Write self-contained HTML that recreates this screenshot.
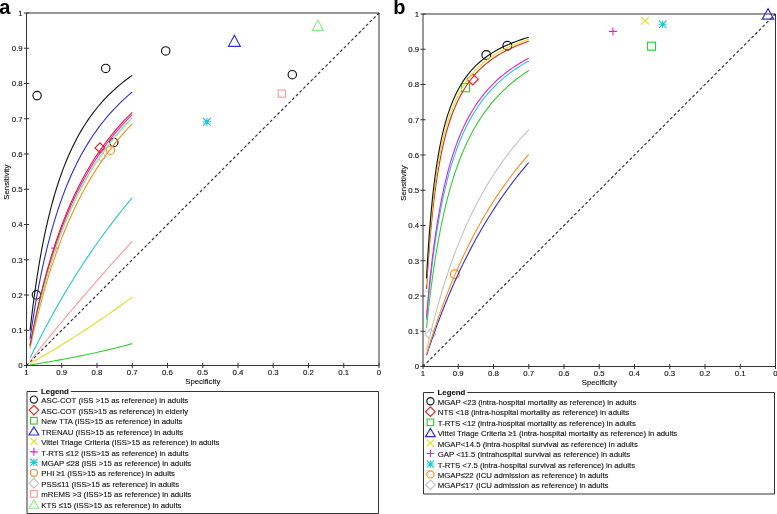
<!DOCTYPE html>
<html><head><meta charset="utf-8"><style>
html,body{margin:0;padding:0;background:#fff;overflow:hidden;}
svg{display:block;will-change:transform;}
text{font-family:"Liberation Sans", sans-serif;font-size:7.8px;fill:#111;stroke:#111;stroke-width:0.12px;}
.big{font-size:20px;font-weight:bold;fill:#000;stroke:none;}
</style></head><body>
<svg width="777" height="514" viewBox="0 0 777 514">
<rect width="777" height="514" fill="#fff"/>
<text class="big" x="-0.8" y="13.9">a</text>
<text class="big" x="393.3" y="14.0">b</text>
<g>
<line x1="26.5" y1="13.0" x2="26.5" y2="365.5" stroke="#333" stroke-width="1"/>
<line x1="26.5" y1="365.5" x2="379.0" y2="365.5" stroke="#333" stroke-width="1"/>
<line x1="26.5" y1="13.0" x2="379.0" y2="13.0" stroke="#333" stroke-width="1"/>
<line x1="379.0" y1="13.0" x2="379.0" y2="365.5" stroke="#333" stroke-width="1"/>
<line x1="26.5" y1="365.5" x2="379.0" y2="13.0" stroke="#262626" stroke-width="1.1" stroke-dasharray="2.9 2.32"/>
<line x1="23.9" y1="365.5" x2="29.1" y2="365.5" stroke="#333" stroke-width="1"/>
<text x="22.7" y="368.30" text-anchor="end">0</text>
<line x1="379.0" y1="362.9" x2="379.0" y2="368.1" stroke="#333" stroke-width="1"/>
<text x="379.00" y="375.2" text-anchor="middle">0</text>
<line x1="23.9" y1="330.25" x2="29.1" y2="330.25" stroke="#333" stroke-width="1"/>
<text x="22.7" y="333.05" text-anchor="end">0.1</text>
<line x1="343.75" y1="362.9" x2="343.75" y2="368.1" stroke="#333" stroke-width="1"/>
<text x="343.75" y="375.2" text-anchor="middle">0.1</text>
<line x1="23.9" y1="295.0" x2="29.1" y2="295.0" stroke="#333" stroke-width="1"/>
<text x="22.7" y="297.80" text-anchor="end">0.2</text>
<line x1="308.5" y1="362.9" x2="308.5" y2="368.1" stroke="#333" stroke-width="1"/>
<text x="308.50" y="375.2" text-anchor="middle">0.2</text>
<line x1="23.9" y1="259.75" x2="29.1" y2="259.75" stroke="#333" stroke-width="1"/>
<text x="22.7" y="262.55" text-anchor="end">0.3</text>
<line x1="273.25" y1="362.9" x2="273.25" y2="368.1" stroke="#333" stroke-width="1"/>
<text x="273.25" y="375.2" text-anchor="middle">0.3</text>
<line x1="23.9" y1="224.5" x2="29.1" y2="224.5" stroke="#333" stroke-width="1"/>
<text x="22.7" y="227.30" text-anchor="end">0.4</text>
<line x1="238.0" y1="362.9" x2="238.0" y2="368.1" stroke="#333" stroke-width="1"/>
<text x="238.00" y="375.2" text-anchor="middle">0.4</text>
<line x1="23.9" y1="189.25" x2="29.1" y2="189.25" stroke="#333" stroke-width="1"/>
<text x="22.7" y="192.05" text-anchor="end">0.5</text>
<line x1="202.75" y1="362.9" x2="202.75" y2="368.1" stroke="#333" stroke-width="1"/>
<text x="202.75" y="375.2" text-anchor="middle">0.5</text>
<line x1="23.9" y1="154.0" x2="29.1" y2="154.0" stroke="#333" stroke-width="1"/>
<text x="22.7" y="156.80" text-anchor="end">0.6</text>
<line x1="167.5" y1="362.9" x2="167.5" y2="368.1" stroke="#333" stroke-width="1"/>
<text x="167.50" y="375.2" text-anchor="middle">0.6</text>
<line x1="23.9" y1="118.75000000000003" x2="29.1" y2="118.75000000000003" stroke="#333" stroke-width="1"/>
<text x="22.7" y="121.55" text-anchor="end">0.7</text>
<line x1="132.25" y1="362.9" x2="132.25" y2="368.1" stroke="#333" stroke-width="1"/>
<text x="132.25" y="375.2" text-anchor="middle">0.7</text>
<line x1="23.9" y1="83.5" x2="29.1" y2="83.5" stroke="#333" stroke-width="1"/>
<text x="22.7" y="86.30" text-anchor="end">0.8</text>
<line x1="96.99999999999999" y1="362.9" x2="96.99999999999999" y2="368.1" stroke="#333" stroke-width="1"/>
<text x="97.00" y="375.2" text-anchor="middle">0.8</text>
<line x1="23.9" y1="48.25" x2="29.1" y2="48.25" stroke="#333" stroke-width="1"/>
<text x="22.7" y="51.05" text-anchor="end">0.9</text>
<line x1="61.74999999999999" y1="362.9" x2="61.74999999999999" y2="368.1" stroke="#333" stroke-width="1"/>
<text x="61.75" y="375.2" text-anchor="middle">0.9</text>
<line x1="23.9" y1="13.0" x2="29.1" y2="13.0" stroke="#333" stroke-width="1"/>
<text x="22.7" y="15.80" text-anchor="end">1</text>
<line x1="26.5" y1="362.9" x2="26.5" y2="368.1" stroke="#333" stroke-width="1"/>
<text x="26.50" y="375.2" text-anchor="middle">1</text>
<text x="202.75" y="383.9" text-anchor="middle">Specificity</text>
<text transform="translate(9.3,182.2) rotate(-90)" text-anchor="middle">Sensitivity</text>
<circle cx="37.1" cy="95.6" r="4.2" fill="none" stroke="#111111" stroke-width="1.15"/>
<circle cx="105.7" cy="68.4" r="4.2" fill="none" stroke="#111111" stroke-width="1.15"/>
<circle cx="165.7" cy="50.9" r="4.2" fill="none" stroke="#111111" stroke-width="1.15"/>
<circle cx="292.3" cy="74.7" r="4.2" fill="none" stroke="#111111" stroke-width="1.15"/>
<circle cx="36.4" cy="294.9" r="4.2" fill="none" stroke="#111111" stroke-width="1.15"/>
<circle cx="113.8" cy="142.4" r="4.2" fill="none" stroke="#111111" stroke-width="1.15"/>
<path d="M96.2,156.5 L101.2,151.5 L106.2,156.5 L101.2,161.5 Z" fill="none" stroke="#c4c4c4" stroke-width="1.15"/>
<path d="M95.0,147.9 L100.0,142.9 L105.0,147.9 L100.0,152.9 Z" fill="none" stroke="#dd2222" stroke-width="1.15"/>
<circle cx="110.4" cy="150.2" r="4.2" fill="none" stroke="#ff8c1a" stroke-width="1.15"/>
<path d="M234.4,35.2 L240.3,46.3 L228.5,46.3 Z" fill="none" stroke="#2e2ed6" stroke-width="1.15" stroke-linejoin="miter"/>
<path d="M317.9,20.1 L323.5,30.4 L312.29999999999995,30.4 Z" fill="none" stroke="#88ee88" stroke-width="1.15" stroke-linejoin="miter"/>
<rect x="278.2" y="90.0" width="7.2" height="7.2" fill="none" stroke="#ff9999" stroke-width="1.15"/>
<path d="M202.9,121.8 L210.9,121.8 M206.9,117.8 L206.9,125.8 M203.1,118.0 L210.70000000000002,125.6 M210.70000000000002,118.0 L203.1,125.6" stroke="#22c8d0" stroke-width="1.1"/>
<path d="M50.9,248.1 L58.699999999999996,248.1 M54.8,244.2 L54.8,252.0" stroke="#dd22dd" stroke-width="1.0"/>
<polyline points="30.03,364.95 30.19,364.92 30.37,364.90 30.55,364.87 30.74,364.84 30.94,364.81 31.15,364.77 31.37,364.74 31.60,364.70 31.85,364.66 32.10,364.62 32.36,364.58 32.64,364.54 32.93,364.49 33.23,364.44 33.55,364.39 33.88,364.34 34.22,364.28 34.58,364.23 34.96,364.16 35.36,364.10 35.77,364.03 36.21,363.96 36.66,363.89 37.13,363.81 37.62,363.73 38.14,363.65 38.68,363.56 39.24,363.47 39.83,363.37 40.44,363.27 41.08,363.16 41.75,363.05 42.45,362.94 43.18,362.81 43.94,362.69 44.73,362.55 45.56,362.41 46.42,362.27 47.32,362.11 48.26,361.95 49.24,361.78 50.25,361.61 51.31,361.42 52.42,361.23 53.56,361.03 54.76,360.81 56.00,360.59 57.29,360.36 58.63,360.12 60.03,359.86 61.48,359.60 62.98,359.32 64.54,359.03 66.16,358.72 67.84,358.41 69.58,358.07 71.38,357.72 73.25,357.36 75.18,356.98 77.18,356.58 79.25,356.16 81.39,355.73 83.59,355.27 85.87,354.80 88.22,354.30 90.64,353.78 93.13,353.24 95.70,352.67 98.34,352.08 101.06,351.46 103.85,350.82 106.72,350.15 109.66,349.44 112.67,348.71 115.76,347.94 118.92,347.15 122.15,346.31 125.45,345.44 128.81,344.54 132.25,343.60" fill="none" stroke="#33cc33" stroke-width="1.1" stroke-linejoin="round"/>
<polyline points="30.03,363.51 30.19,363.41 30.37,363.32 30.55,363.21 30.74,363.10 30.94,362.99 31.15,362.87 31.37,362.74 31.60,362.61 31.85,362.47 32.10,362.33 32.36,362.18 32.64,362.02 32.93,361.86 33.23,361.69 33.55,361.50 33.88,361.31 34.22,361.12 34.58,360.91 34.96,360.69 35.36,360.46 35.77,360.23 36.21,359.98 36.66,359.72 37.13,359.44 37.62,359.16 38.14,358.86 38.68,358.55 39.24,358.22 39.83,357.88 40.44,357.52 41.08,357.15 41.75,356.76 42.45,356.35 43.18,355.92 43.94,355.48 44.73,355.01 45.56,354.52 46.42,354.02 47.32,353.48 48.26,352.93 49.24,352.35 50.25,351.74 51.31,351.11 52.42,350.45 53.56,349.76 54.76,349.04 56.00,348.29 57.29,347.50 58.63,346.69 60.03,345.83 61.48,344.95 62.98,344.02 64.54,343.05 66.16,342.05 67.84,341.00 69.58,339.91 71.38,338.78 73.25,337.60 75.18,336.37 77.18,335.10 79.25,333.77 81.39,332.39 83.59,330.96 85.87,329.47 88.22,327.93 90.64,326.32 93.13,324.66 95.70,322.94 98.34,321.16 101.06,319.31 103.85,317.39 106.72,315.42 109.66,313.37 112.67,311.25 115.76,309.07 118.92,306.81 122.15,304.48 125.45,302.08 128.81,299.61 132.25,297.06" fill="none" stroke="#e0e020" stroke-width="1.1" stroke-linejoin="round"/>
<polyline points="30.03,361.04 30.19,360.83 30.37,360.61 30.55,360.38 30.74,360.14 30.94,359.89 31.15,359.62 31.37,359.35 31.60,359.06 31.85,358.75 32.10,358.43 32.36,358.10 32.64,357.76 32.93,357.39 33.23,357.01 33.55,356.62 33.88,356.20 34.22,355.77 34.58,355.32 34.96,354.84 35.36,354.35 35.77,353.83 36.21,353.29 36.66,352.72 37.13,352.14 37.62,351.52 38.14,350.88 38.68,350.21 39.24,349.51 39.83,348.77 40.44,348.01 41.08,347.22 41.75,346.39 42.45,345.52 43.18,344.62 43.94,343.68 44.73,342.70 45.56,341.68 46.42,340.62 47.32,339.52 48.26,338.37 49.24,337.17 50.25,335.93 51.31,334.63 52.42,333.29 53.56,331.89 54.76,330.44 56.00,328.93 57.29,327.37 58.63,325.74 60.03,324.06 61.48,322.32 62.98,320.51 64.54,318.64 66.16,316.70 67.84,314.70 69.58,312.63 71.38,310.49 73.25,308.28 75.18,306.00 77.18,303.64 79.25,301.22 81.39,298.72 83.59,296.14 85.87,293.50 88.22,290.78 90.64,287.98 93.13,285.11 95.70,282.17 98.34,279.15 101.06,276.06 103.85,272.89 106.72,269.66 109.66,266.36 112.67,262.98 115.76,259.55 118.92,256.04 122.15,252.48 125.45,248.85 128.81,245.16 132.25,241.42" fill="none" stroke="#ff9999" stroke-width="1.1" stroke-linejoin="round"/>
<polyline points="30.03,358.11 30.19,357.77 30.37,357.40 30.55,357.02 30.74,356.63 30.94,356.21 31.15,355.78 31.37,355.33 31.60,354.86 31.85,354.36 32.10,353.84 32.36,353.30 32.64,352.74 32.93,352.15 33.23,351.54 33.55,350.90 33.88,350.23 34.22,349.53 34.58,348.80 34.96,348.03 35.36,347.24 35.77,346.41 36.21,345.55 36.66,344.65 37.13,343.71 37.62,342.73 38.14,341.71 38.68,340.65 39.24,339.55 39.83,338.40 40.44,337.20 41.08,335.96 41.75,334.67 42.45,333.32 43.18,331.93 43.94,330.48 44.73,328.97 45.56,327.41 46.42,325.79 47.32,324.11 48.26,322.37 49.24,320.56 50.25,318.69 51.31,316.76 52.42,314.76 53.56,312.69 54.76,310.55 56.00,308.34 57.29,306.06 58.63,303.71 60.03,301.29 61.48,298.79 62.98,296.22 64.54,293.57 66.16,290.85 67.84,288.06 69.58,285.19 71.38,282.25 73.25,279.23 75.18,276.15 77.18,272.99 79.25,269.75 81.39,266.45 83.59,263.08 85.87,259.64 88.22,256.14 90.64,252.58 93.13,248.95 95.70,245.27 98.34,241.53 101.06,237.74 103.85,233.90 106.72,230.01 109.66,226.08 112.67,222.12 115.76,218.12 118.92,214.08 122.15,210.02 125.45,205.94 128.81,201.84 132.25,197.73" fill="none" stroke="#22c8d0" stroke-width="1.1" stroke-linejoin="round"/>
<polyline points="30.03,348.27 30.19,347.48 30.37,346.67 30.55,345.81 30.74,344.92 30.94,344.00 31.15,343.03 31.37,342.02 31.60,340.98 31.85,339.89 32.10,338.75 32.36,337.57 32.64,336.34 32.93,335.06 33.23,333.74 33.55,332.35 33.88,330.92 34.22,329.43 34.58,327.89 34.96,326.28 35.36,324.62 35.77,322.90 36.21,321.11 36.66,319.26 37.13,317.35 37.62,315.37 38.14,313.32 38.68,311.20 39.24,309.01 39.83,306.75 40.44,304.43 41.08,302.02 41.75,299.55 42.45,297.00 43.18,294.38 43.94,291.68 44.73,288.91 45.56,286.06 46.42,283.14 47.32,280.15 48.26,277.08 49.24,273.94 50.25,270.73 51.31,267.45 52.42,264.10 53.56,260.69 54.76,257.20 56.00,253.66 57.29,250.05 58.63,246.38 60.03,242.66 61.48,238.89 62.98,235.06 64.54,231.19 66.16,227.27 67.84,223.32 69.58,219.32 71.38,215.30 73.25,211.25 75.18,207.17 77.18,203.08 79.25,198.97 81.39,194.85 83.59,190.72 85.87,186.59 88.22,182.47 90.64,178.35 93.13,174.25 95.70,170.16 98.34,166.09 101.06,162.04 103.85,158.03 106.72,154.05 109.66,150.10 112.67,146.20 115.76,142.34 118.92,138.53 122.15,134.77 125.45,131.06 128.81,127.41 132.25,123.82" fill="none" stroke="#ff8c1a" stroke-width="1.1" stroke-linejoin="round"/>
<polyline points="30.03,346.87 30.19,346.03 30.37,345.15 30.55,344.23 30.74,343.28 30.94,342.28 31.15,341.24 31.37,340.16 31.60,339.04 31.85,337.87 32.10,336.65 32.36,335.39 32.64,334.07 32.93,332.70 33.23,331.28 33.55,329.81 33.88,328.28 34.22,326.69 34.58,325.04 34.96,323.33 35.36,321.56 35.77,319.73 36.21,317.83 36.66,315.87 37.13,313.83 37.62,311.73 38.14,309.57 38.68,307.33 39.24,305.01 39.83,302.63 40.44,300.17 41.08,297.64 41.75,295.04 42.45,292.36 43.18,289.61 43.94,286.78 44.73,283.88 45.56,280.90 46.42,277.86 47.32,274.73 48.26,271.54 49.24,268.28 50.25,264.95 51.31,261.54 52.42,258.08 53.56,254.55 54.76,250.96 56.00,247.30 57.29,243.60 58.63,239.83 60.03,236.02 61.48,232.16 62.98,228.25 64.54,224.31 66.16,220.32 67.84,216.31 69.58,212.26 71.38,208.19 73.25,204.10 75.18,200.00 77.18,195.88 79.25,191.75 81.39,187.62 83.59,183.50 85.87,179.38 88.22,175.27 90.64,171.17 93.13,167.10 95.70,163.05 98.34,159.03 101.06,155.04 103.85,151.08 106.72,147.17 109.66,143.30 112.67,139.47 115.76,135.70 118.92,131.98 122.15,128.32 125.45,124.71 128.81,121.17 132.25,117.69" fill="none" stroke="#c4c4c4" stroke-width="1.1" stroke-linejoin="round"/>
<polyline points="30.03,346.14 30.19,345.26 30.37,344.35 30.55,343.40 30.74,342.41 30.94,341.37 31.15,340.30 31.37,339.18 31.60,338.02 31.85,336.81 32.10,335.55 32.36,334.24 32.64,332.88 32.93,331.46 33.23,330.00 33.55,328.47 33.88,326.89 34.22,325.25 34.58,323.55 34.96,321.79 35.36,319.96 35.77,318.07 36.21,316.12 36.66,314.09 37.13,312.00 37.62,309.84 38.14,307.61 38.68,305.31 39.24,302.93 39.83,300.48 40.44,297.96 41.08,295.37 41.75,292.70 42.45,289.96 43.18,287.14 43.94,284.25 44.73,281.28 45.56,278.24 46.42,275.13 47.32,271.94 48.26,268.69 49.24,265.37 50.25,261.97 51.31,258.51 52.42,254.99 53.56,251.41 54.76,247.76 56.00,244.06 57.29,240.31 58.63,236.50 60.03,232.64 61.48,228.74 62.98,224.80 64.54,220.82 66.16,216.81 67.84,212.77 69.58,208.70 71.38,204.61 73.25,200.51 75.18,196.39 77.18,192.27 79.25,188.14 81.39,184.01 83.59,179.89 85.87,175.78 88.22,171.68 90.64,167.61 93.13,163.55 95.70,159.53 98.34,155.53 101.06,151.57 103.85,147.65 106.72,143.78 109.66,139.95 112.67,136.17 115.76,132.44 118.92,128.77 122.15,125.16 125.45,121.61 128.81,118.12 132.25,114.69" fill="none" stroke="#dd22dd" stroke-width="1.1" stroke-linejoin="round"/>
<polyline points="30.03,346.94 30.19,346.10 30.37,345.23 30.55,344.31 30.74,343.36 30.94,342.37 31.15,341.33 31.37,340.26 31.60,339.14 31.85,337.97 32.10,336.76 32.36,335.50 32.64,334.19 32.93,332.82 33.23,331.41 33.55,329.94 33.88,328.41 34.22,326.83 34.58,325.18 34.96,323.48 35.36,321.72 35.77,319.89 36.21,318.00 36.66,316.04 37.13,314.01 37.62,311.92 38.14,309.75 38.68,307.52 39.24,305.21 39.83,302.84 40.44,300.39 41.08,297.86 41.75,295.26 42.45,292.59 43.18,289.85 43.94,287.03 44.73,284.13 45.56,281.16 46.42,278.12 47.32,275.00 48.26,271.82 49.24,268.56 50.25,265.23 51.31,261.84 52.42,258.38 53.56,254.85 54.76,251.26 56.00,247.62 57.29,243.91 58.63,240.16 60.03,236.35 61.48,232.49 62.98,228.59 64.54,224.65 66.16,220.67 67.84,216.65 69.58,212.61 71.38,208.54 73.25,204.45 75.18,200.35 77.18,196.23 79.25,192.11 81.39,187.98 83.59,183.85 85.87,179.73 88.22,175.62 90.64,171.52 93.13,167.45 95.70,163.39 98.34,159.37 101.06,155.38 103.85,151.42 106.72,147.50 109.66,143.63 112.67,139.80 115.76,136.02 118.92,132.30 122.15,128.63 125.45,125.02 128.81,121.47 132.25,117.98" fill="none" stroke="#88ee88" stroke-width="1.1" stroke-linejoin="round"/>
<polyline points="30.03,345.54 30.19,344.64 30.37,343.70 30.55,342.72 30.74,341.71 30.94,340.65 31.15,339.54 31.37,338.39 31.60,337.20 31.85,335.95 32.10,334.66 32.36,333.31 32.64,331.92 32.93,330.47 33.23,328.96 33.55,327.40 33.88,325.78 34.22,324.10 34.58,322.35 34.96,320.55 35.36,318.68 35.77,316.74 36.21,314.74 36.66,312.67 37.13,310.53 37.62,308.32 38.14,306.04 38.68,303.69 39.24,301.27 39.83,298.77 40.44,296.20 41.08,293.55 41.75,290.83 42.45,288.04 43.18,285.17 43.94,282.23 44.73,279.21 45.56,276.12 46.42,272.96 47.32,269.73 48.26,266.43 49.24,263.06 50.25,259.62 51.31,256.12 52.42,252.55 53.56,248.92 54.76,245.24 56.00,241.50 57.29,237.71 58.63,233.87 60.03,229.98 61.48,226.06 62.98,222.09 64.54,218.09 66.16,214.05 67.84,209.99 69.58,205.91 71.38,201.81 73.25,197.70 75.18,193.58 77.18,189.45 79.25,185.32 81.39,181.20 83.59,177.08 85.87,172.98 88.22,168.90 90.64,164.84 93.13,160.80 95.70,156.80 98.34,152.82 101.06,148.89 103.85,145.00 106.72,141.16 109.66,137.36 112.67,133.62 115.76,129.93 118.92,126.30 122.15,122.72 125.45,119.22 128.81,115.77 132.25,112.40" fill="none" stroke="#dd2222" stroke-width="1.1" stroke-linejoin="round"/>
<polyline points="30.03,338.91 30.19,337.74 30.37,336.51 30.55,335.24 30.74,333.92 30.94,332.55 31.15,331.12 31.37,329.64 31.60,328.10 31.85,326.51 32.10,324.85 32.36,323.14 32.64,321.36 32.93,319.52 33.23,317.62 33.55,315.64 33.88,313.60 34.22,311.50 34.58,309.32 34.96,307.07 35.36,304.75 35.77,302.36 36.21,299.90 36.66,297.36 37.13,294.74 37.62,292.06 38.14,289.30 38.68,286.46 39.24,283.55 39.83,280.57 40.44,277.51 41.08,274.38 41.75,271.18 42.45,267.91 43.18,264.57 43.94,261.16 44.73,257.69 45.56,254.15 46.42,250.55 47.32,246.89 48.26,243.18 49.24,239.41 50.25,235.59 51.31,231.73 52.42,227.82 53.56,223.87 54.76,219.88 56.00,215.86 57.29,211.81 58.63,207.74 60.03,203.65 61.48,199.54 62.98,195.42 64.54,191.29 66.16,187.17 67.84,183.04 69.58,178.92 71.38,174.81 73.25,170.72 75.18,166.65 77.18,162.60 79.25,158.58 81.39,154.59 83.59,150.64 85.87,146.74 88.22,142.87 90.64,139.05 93.13,135.28 95.70,131.57 98.34,127.91 101.06,124.31 103.85,120.78 106.72,117.30 109.66,113.90 112.67,110.56 115.76,107.29 118.92,104.09 122.15,100.96 125.45,97.90 128.81,94.92 132.25,92.01" fill="none" stroke="#2e2ed6" stroke-width="1.1" stroke-linejoin="round"/>
<polyline points="30.03,330.66 30.19,329.16 30.37,327.60 30.55,325.99 30.74,324.31 30.94,322.58 31.15,320.78 31.37,318.92 31.60,316.99 31.85,315.00 32.10,312.94 32.36,310.81 32.64,308.61 32.93,306.34 33.23,304.00 33.55,301.58 33.88,299.10 34.22,296.53 34.58,293.90 34.96,291.19 35.36,288.40 35.77,285.54 36.21,282.61 36.66,279.60 37.13,276.52 37.62,273.37 38.14,270.15 38.68,266.85 39.24,263.49 39.83,260.06 40.44,256.57 41.08,253.01 41.75,249.39 42.45,245.72 43.18,241.99 43.94,238.20 44.73,234.37 45.56,230.49 46.42,226.56 47.32,222.60 48.26,218.60 49.24,214.57 50.25,210.52 51.31,206.44 52.42,202.34 53.56,198.23 54.76,194.11 56.00,189.98 57.29,185.85 58.63,181.73 60.03,177.61 61.48,173.51 62.98,169.42 64.54,165.36 66.16,161.32 67.84,157.31 69.58,153.33 71.38,149.40 73.25,145.50 75.18,141.65 77.18,137.85 79.25,134.09 81.39,130.40 83.59,126.76 85.87,123.18 88.22,119.66 90.64,116.21 93.13,112.83 95.70,109.51 98.34,106.26 101.06,103.08 103.85,99.98 106.72,96.94 109.66,93.98 112.67,91.10 115.76,88.29 118.92,85.55 122.15,82.89 125.45,80.30 128.81,77.79 132.25,75.35" fill="none" stroke="#111111" stroke-width="1.1" stroke-linejoin="round"/>
<path d="M37.5,391.5 L27.0,391.5 L27.0,513.5 L378.5,513.5 L378.5,391.5 L70.8,391.5" fill="none" stroke="#333" stroke-width="1"/>
<text x="41.1" y="393.5" font-weight="bold">Legend</text>
<circle cx="33.9" cy="399.6" r="3.6" fill="none" stroke="#111111" stroke-width="1.15"/>
<text x="41.3" y="403.20">ASC-COT (ISS &gt;15 as reference) in adults</text>
<path d="M29.099999999999998,410.06 L33.9,405.26 L38.699999999999996,410.06 L33.9,414.86 Z" fill="none" stroke="#dd2222" stroke-width="1.15"/>
<text x="41.3" y="413.66">ASC-COT (ISS&gt;15 as reference) in elderly</text>
<rect x="30.599999999999998" y="417.42" width="6.6" height="6.6" fill="none" stroke="#33cc33" stroke-width="1.15"/>
<text x="41.3" y="424.12">New TTA (ISS&gt;15 as reference) in adults</text>
<path d="M33.9,426.88 L38.8,434.98 L29.0,434.98 Z" fill="none" stroke="#2e2ed6" stroke-width="1.15" stroke-linejoin="miter"/>
<text x="41.3" y="434.58">TRENAU (ISS&gt;15 as reference) in adults</text>
<path d="M30.4,437.94000000000005 L37.4,444.94000000000005 M37.4,437.94000000000005 L30.4,444.94000000000005" stroke="#e0e020" stroke-width="1.1"/>
<text x="41.3" y="445.04">Vittel Triage Criteria (ISS&gt;15 as reference) in adults</text>
<path d="M30.099999999999998,451.90000000000003 L37.699999999999996,451.90000000000003 M33.9,448.1 L33.9,455.70000000000005" stroke="#dd22dd" stroke-width="1.1"/>
<text x="41.3" y="455.50">T-RTS ≤12 (ISS&gt;15 as reference) in adults</text>
<path d="M30.099999999999998,462.36 L37.699999999999996,462.36 M33.9,458.56 L33.9,466.16 M30.29,458.75 L37.51,465.97 M37.51,458.75 L30.29,465.97" stroke="#22c8d0" stroke-width="1.1"/>
<text x="41.3" y="465.96">MGAP ≤28 (ISS &gt;15 as reference) in adults</text>
<circle cx="33.9" cy="472.82000000000005" r="3.6" fill="none" stroke="#ff8c1a" stroke-width="1.15"/>
<text x="41.3" y="476.42">PHI ≥1 (ISS&gt;15 as reference) in adults</text>
<path d="M29.099999999999998,483.28000000000003 L33.9,478.48 L38.699999999999996,483.28000000000003 L33.9,488.08000000000004 Z" fill="none" stroke="#c4c4c4" stroke-width="1.15"/>
<text x="41.3" y="486.88">PSS≤11 (ISS&gt;15 as reference) in adults</text>
<rect x="30.599999999999998" y="490.64" width="6.6" height="6.6" fill="none" stroke="#ff9999" stroke-width="1.15"/>
<text x="41.3" y="497.34">mREMS &gt;3 (ISS&gt;15 as reference) in adults</text>
<path d="M33.9,500.1 L38.8,508.20000000000005 L29.0,508.20000000000005 Z" fill="none" stroke="#88ee88" stroke-width="1.15" stroke-linejoin="miter"/>
<text x="41.3" y="507.80">KTS ≤15 (ISS&gt;15 as reference) in adults</text>
</g>
<g transform="translate(396.5,1.0)">
<line x1="26.5" y1="13.0" x2="26.5" y2="365.5" stroke="#333" stroke-width="1"/>
<line x1="26.5" y1="365.5" x2="379.0" y2="365.5" stroke="#333" stroke-width="1"/>
<line x1="26.5" y1="13.0" x2="379.0" y2="13.0" stroke="#333" stroke-width="1"/>
<line x1="379.0" y1="13.0" x2="379.0" y2="365.5" stroke="#333" stroke-width="1"/>
<line x1="26.5" y1="365.5" x2="379.0" y2="13.0" stroke="#262626" stroke-width="1.1" stroke-dasharray="2.9 2.32"/>
<line x1="23.9" y1="365.5" x2="29.1" y2="365.5" stroke="#333" stroke-width="1"/>
<text x="22.7" y="368.30" text-anchor="end">0</text>
<line x1="379.0" y1="362.9" x2="379.0" y2="368.1" stroke="#333" stroke-width="1"/>
<text x="379.00" y="375.2" text-anchor="middle">0</text>
<line x1="23.9" y1="330.25" x2="29.1" y2="330.25" stroke="#333" stroke-width="1"/>
<text x="22.7" y="333.05" text-anchor="end">0.1</text>
<line x1="343.75" y1="362.9" x2="343.75" y2="368.1" stroke="#333" stroke-width="1"/>
<text x="343.75" y="375.2" text-anchor="middle">0.1</text>
<line x1="23.9" y1="295.0" x2="29.1" y2="295.0" stroke="#333" stroke-width="1"/>
<text x="22.7" y="297.80" text-anchor="end">0.2</text>
<line x1="308.5" y1="362.9" x2="308.5" y2="368.1" stroke="#333" stroke-width="1"/>
<text x="308.50" y="375.2" text-anchor="middle">0.2</text>
<line x1="23.9" y1="259.75" x2="29.1" y2="259.75" stroke="#333" stroke-width="1"/>
<text x="22.7" y="262.55" text-anchor="end">0.3</text>
<line x1="273.25" y1="362.9" x2="273.25" y2="368.1" stroke="#333" stroke-width="1"/>
<text x="273.25" y="375.2" text-anchor="middle">0.3</text>
<line x1="23.9" y1="224.5" x2="29.1" y2="224.5" stroke="#333" stroke-width="1"/>
<text x="22.7" y="227.30" text-anchor="end">0.4</text>
<line x1="238.0" y1="362.9" x2="238.0" y2="368.1" stroke="#333" stroke-width="1"/>
<text x="238.00" y="375.2" text-anchor="middle">0.4</text>
<line x1="23.9" y1="189.25" x2="29.1" y2="189.25" stroke="#333" stroke-width="1"/>
<text x="22.7" y="192.05" text-anchor="end">0.5</text>
<line x1="202.75" y1="362.9" x2="202.75" y2="368.1" stroke="#333" stroke-width="1"/>
<text x="202.75" y="375.2" text-anchor="middle">0.5</text>
<line x1="23.9" y1="154.0" x2="29.1" y2="154.0" stroke="#333" stroke-width="1"/>
<text x="22.7" y="156.80" text-anchor="end">0.6</text>
<line x1="167.5" y1="362.9" x2="167.5" y2="368.1" stroke="#333" stroke-width="1"/>
<text x="167.50" y="375.2" text-anchor="middle">0.6</text>
<line x1="23.9" y1="118.75000000000003" x2="29.1" y2="118.75000000000003" stroke="#333" stroke-width="1"/>
<text x="22.7" y="121.55" text-anchor="end">0.7</text>
<line x1="132.25" y1="362.9" x2="132.25" y2="368.1" stroke="#333" stroke-width="1"/>
<text x="132.25" y="375.2" text-anchor="middle">0.7</text>
<line x1="23.9" y1="83.5" x2="29.1" y2="83.5" stroke="#333" stroke-width="1"/>
<text x="22.7" y="86.30" text-anchor="end">0.8</text>
<line x1="96.99999999999999" y1="362.9" x2="96.99999999999999" y2="368.1" stroke="#333" stroke-width="1"/>
<text x="97.00" y="375.2" text-anchor="middle">0.8</text>
<line x1="23.9" y1="48.25" x2="29.1" y2="48.25" stroke="#333" stroke-width="1"/>
<text x="22.7" y="51.05" text-anchor="end">0.9</text>
<line x1="61.74999999999999" y1="362.9" x2="61.74999999999999" y2="368.1" stroke="#333" stroke-width="1"/>
<text x="61.75" y="375.2" text-anchor="middle">0.9</text>
<line x1="23.9" y1="13.0" x2="29.1" y2="13.0" stroke="#333" stroke-width="1"/>
<text x="22.7" y="15.80" text-anchor="end">1</text>
<line x1="26.5" y1="362.9" x2="26.5" y2="368.1" stroke="#333" stroke-width="1"/>
<text x="26.50" y="375.2" text-anchor="middle">1</text>
<text x="202.75" y="384.4" text-anchor="middle">Specificity</text>
<text transform="translate(9.3,182.2) rotate(-90)" text-anchor="middle">Sensitivity</text>
<circle cx="89.8" cy="54.1" r="4.4" fill="none" stroke="#111111" stroke-width="1.15"/>
<circle cx="110.8" cy="44.8" r="4.4" fill="none" stroke="#111111" stroke-width="1.15"/>
<path d="M70.60000000000001,78.4 L76.2,72.80000000000001 L81.8,78.4 L76.2,84.0 Z" fill="none" stroke="#dd2222" stroke-width="1.15"/>
<rect x="65.0" y="82.7" width="8.0" height="8.0" fill="none" stroke="#33cc33" stroke-width="1.15"/>
<rect x="251.0" y="41.2" width="8.0" height="8.0" fill="none" stroke="#33cc33" stroke-width="1.15"/>
<path d="M244.7,15.799999999999999 L252.5,23.599999999999998 M252.5,15.799999999999999 L244.7,23.599999999999998" stroke="#e0e020" stroke-width="1.1"/>
<path d="M212.4,30.4 L220.4,30.4 M216.4,26.4 L216.4,34.4" stroke="#dd22dd" stroke-width="1.1"/>
<path d="M262.2,23.3 L270.2,23.3 M266.2,19.3 L266.2,27.3 M262.4,19.5 L270.0,27.1 M270.0,19.5 L262.4,27.1" stroke="#22c8d0" stroke-width="1.1"/>
<circle cx="58.4" cy="273.2" r="4.4" fill="none" stroke="#ff8c1a" stroke-width="1.15"/>
<path d="M28.6,333.4 L34.0,328.0 L39.4,333.4 L34.0,338.79999999999995 Z" fill="none" stroke="#c4c4c4" stroke-width="1.15"/>
<path d="M371.5,7.6 L377.3,18.1 L365.7,18.1 Z" fill="none" stroke="#2e2ed6" stroke-width="1.15" stroke-linejoin="miter"/>
<polyline points="30.03,354.44 30.19,353.93 30.37,353.39 30.55,352.83 30.74,352.25 30.94,351.64 31.15,351.00 31.37,350.34 31.60,349.64 31.85,348.92 32.10,348.16 32.36,347.37 32.64,346.55 32.93,345.69 33.23,344.80 33.55,343.87 33.88,342.89 34.22,341.88 34.58,340.83 34.96,339.73 35.36,338.59 35.77,337.40 36.21,336.17 36.66,334.88 37.13,333.55 37.62,332.16 38.14,330.72 38.68,329.22 39.24,327.67 39.83,326.06 40.44,324.39 41.08,322.65 41.75,320.86 42.45,319.00 43.18,317.08 43.94,315.09 44.73,313.03 45.56,310.90 46.42,308.70 47.32,306.44 48.26,304.10 49.24,301.69 50.25,299.20 51.31,296.64 52.42,294.01 53.56,291.30 54.76,288.52 56.00,285.66 57.29,282.73 58.63,279.73 60.03,276.65 61.48,273.50 62.98,270.28 64.54,266.99 66.16,263.63 67.84,260.21 69.58,256.72 71.38,253.16 73.25,249.55 75.18,245.87 77.18,242.14 79.25,238.36 81.39,234.53 83.59,230.65 85.87,226.73 88.22,222.77 90.64,218.77 93.13,214.74 95.70,210.69 98.34,206.61 101.06,202.51 103.85,198.40 106.72,194.28 109.66,190.15 112.67,186.02 115.76,181.90 118.92,177.78 122.15,173.68 125.45,169.59 128.81,165.53 132.25,161.49" fill="none" stroke="#2e2ed6" stroke-width="1.1" stroke-linejoin="round"/>
<polyline points="30.03,353.37 30.19,352.81 30.37,352.22 30.55,351.61 30.74,350.97 30.94,350.30 31.15,349.61 31.37,348.88 31.60,348.12 31.85,347.33 32.10,346.51 32.36,345.65 32.64,344.75 32.93,343.82 33.23,342.85 33.55,341.83 33.88,340.78 34.22,339.68 34.58,338.53 34.96,337.34 35.36,336.11 35.77,334.82 36.21,333.48 36.66,332.09 37.13,330.65 37.62,329.15 38.14,327.59 38.68,325.98 39.24,324.30 39.83,322.57 40.44,320.77 41.08,318.91 41.75,316.98 42.45,314.99 43.18,312.93 43.94,310.79 44.73,308.59 45.56,306.32 46.42,303.98 47.32,301.57 48.26,299.08 49.24,296.51 50.25,293.88 51.31,291.17 52.42,288.38 53.56,285.52 54.76,282.59 56.00,279.58 57.29,276.50 58.63,273.35 60.03,270.12 61.48,266.83 62.98,263.47 64.54,260.04 66.16,256.54 67.84,252.99 69.58,249.37 71.38,245.69 73.25,241.96 75.18,238.17 77.18,234.34 79.25,230.46 81.39,226.53 83.59,222.57 85.87,218.57 88.22,214.54 90.64,210.49 93.13,206.41 95.70,202.31 98.34,198.20 101.06,194.08 103.85,189.95 106.72,185.82 109.66,181.70 112.67,177.58 115.76,173.48 118.92,169.39 122.15,165.33 125.45,161.29 128.81,157.28 132.25,153.30" fill="none" stroke="#ff8c1a" stroke-width="1.1" stroke-linejoin="round"/>
<polyline points="30.03,349.30 30.19,348.56 30.37,347.79 30.55,346.99 30.74,346.15 30.94,345.27 31.15,344.36 31.37,343.41 31.60,342.42 31.85,341.39 32.10,340.31 32.36,339.20 32.64,338.03 32.93,336.82 33.23,335.56 33.55,334.26 33.88,332.90 34.22,331.48 34.58,330.02 34.96,328.49 35.36,326.91 35.77,325.27 36.21,323.57 36.66,321.81 37.13,319.99 37.62,318.10 38.14,316.14 38.68,314.12 39.24,312.03 39.83,309.87 40.44,307.64 41.08,305.34 41.75,302.96 42.45,300.52 43.18,298.00 43.94,295.40 44.73,292.73 45.56,289.99 46.42,287.18 47.32,284.28 48.26,281.32 49.24,278.28 50.25,275.17 51.31,271.99 52.42,268.73 53.56,265.41 54.76,262.02 56.00,258.56 57.29,255.04 58.63,251.45 60.03,247.81 61.48,244.11 62.98,240.35 64.54,236.55 66.16,232.69 67.84,228.79 69.58,224.85 71.38,220.88 73.25,216.86 75.18,212.82 77.18,208.76 79.25,204.67 81.39,200.56 83.59,196.45 85.87,192.32 88.22,188.19 90.64,184.07 93.13,179.95 95.70,175.83 98.34,171.74 101.06,167.66 103.85,163.61 106.72,159.58 109.66,155.58 112.67,151.63 115.76,147.71 118.92,143.83 122.15,140.00 125.45,136.22 128.81,132.49 132.25,128.82" fill="none" stroke="#c4c4c4" stroke-width="1.1" stroke-linejoin="round"/>
<polyline points="30.03,326.77 30.19,325.13 30.37,323.42 30.55,321.66 30.74,319.83 30.94,317.93 31.15,315.97 31.37,313.94 31.60,311.84 31.85,309.68 32.10,307.44 32.36,305.13 32.64,302.75 32.93,300.30 33.23,297.78 33.55,295.18 33.88,292.50 34.22,289.75 34.58,286.93 34.96,284.03 35.36,281.06 35.77,278.01 36.21,274.90 36.66,271.71 37.13,268.45 37.62,265.12 38.14,261.72 38.68,258.26 39.24,254.73 39.83,251.14 40.44,247.49 41.08,243.79 41.75,240.03 42.45,236.22 43.18,232.36 43.94,228.46 44.73,224.51 45.56,220.53 46.42,216.52 47.32,212.47 48.26,208.40 49.24,204.31 50.25,200.21 51.31,196.09 52.42,191.97 53.56,187.84 54.76,183.71 56.00,179.59 57.29,175.48 58.63,171.39 60.03,167.31 61.48,163.26 62.98,159.23 64.54,155.24 66.16,151.29 67.84,147.37 69.58,143.50 71.38,139.67 73.25,135.89 75.18,132.17 77.18,128.50 79.25,124.90 81.39,121.35 83.59,117.86 85.87,114.45 88.22,111.10 90.64,107.81 93.13,104.60 95.70,101.46 98.34,98.39 101.06,95.40 103.85,92.48 106.72,89.63 109.66,86.86 112.67,84.16 115.76,81.54 118.92,78.99 122.15,76.51 125.45,74.11 128.81,71.78 132.25,69.52" fill="none" stroke="#33cc33" stroke-width="1.1" stroke-linejoin="round"/>
<polyline points="30.03,318.59 30.19,316.66 30.37,314.65 30.55,312.58 30.74,310.44 30.94,308.23 31.15,305.94 31.37,303.59 31.60,301.16 31.85,298.66 32.10,296.08 32.36,293.44 32.64,290.71 32.93,287.92 33.23,285.04 33.55,282.10 33.88,279.08 34.22,275.99 34.58,272.82 34.96,269.59 35.36,266.28 35.77,262.91 36.21,259.47 36.66,255.96 37.13,252.39 37.62,248.76 38.14,245.08 38.68,241.34 39.24,237.54 39.83,233.70 40.44,229.81 41.08,225.88 41.75,221.91 42.45,217.91 43.18,213.88 43.94,209.82 44.73,205.73 45.56,201.63 46.42,197.52 47.32,193.40 48.26,189.27 49.24,185.14 50.25,181.02 51.31,176.90 52.42,172.80 53.56,168.72 54.76,164.66 56.00,160.62 57.29,156.62 58.63,152.65 60.03,148.72 61.48,144.83 62.98,140.99 64.54,137.20 66.16,133.45 67.84,129.77 69.58,126.14 71.38,122.57 73.25,119.06 75.18,115.62 77.18,112.25 79.25,108.94 81.39,105.71 83.59,102.54 85.87,99.45 88.22,96.43 90.64,93.48 93.13,90.61 95.70,87.81 98.34,85.09 101.06,82.44 103.85,79.86 106.72,77.36 109.66,74.93 112.67,72.58 115.76,70.29 118.92,68.08 122.15,65.94 125.45,63.87 128.81,61.86 132.25,59.92" fill="none" stroke="#22c8d0" stroke-width="1.1" stroke-linejoin="round"/>
<polyline points="30.03,315.76 30.19,313.72 30.37,311.62 30.55,309.45 30.74,307.20 30.94,304.89 31.15,302.50 31.37,300.04 31.60,297.51 31.85,294.90 32.10,292.22 32.36,289.46 32.64,286.63 32.93,283.72 33.23,280.74 33.55,277.69 33.88,274.57 34.22,271.37 34.58,268.10 34.96,264.77 35.36,261.36 35.77,257.89 36.21,254.36 36.66,250.76 37.13,247.11 37.62,243.40 38.14,239.63 38.68,235.81 39.24,231.95 39.83,228.04 40.44,224.10 41.08,220.11 41.75,216.09 42.45,212.05 43.18,207.98 43.94,203.88 44.73,199.78 45.56,195.66 46.42,191.53 47.32,187.40 48.26,183.28 49.24,179.16 50.25,175.05 51.31,170.96 52.42,166.88 53.56,162.83 54.76,158.81 56.00,154.82 57.29,150.87 58.63,146.96 60.03,143.09 61.48,139.27 62.98,135.50 64.54,131.78 66.16,128.12 67.84,124.52 69.58,120.98 71.38,117.50 73.25,114.09 75.18,110.75 77.18,107.47 79.25,104.27 81.39,101.14 83.59,98.08 85.87,95.09 88.22,92.18 90.64,89.34 93.13,86.57 95.70,83.88 98.34,81.27 101.06,78.72 103.85,76.26 106.72,73.86 109.66,71.54 112.67,69.29 115.76,67.11 118.92,65.00 122.15,62.95 125.45,60.98 128.81,59.07 132.25,57.22" fill="none" stroke="#dd22dd" stroke-width="1.1" stroke-linejoin="round"/>
<polyline points="30.03,288.04 30.19,285.17 30.37,282.23 30.55,279.21 30.74,276.12 30.94,272.96 31.15,269.73 31.37,266.42 31.60,263.05 31.85,259.62 32.10,256.11 32.36,252.55 32.64,248.92 32.93,245.24 33.23,241.50 33.55,237.71 33.88,233.87 34.22,229.98 34.58,226.05 34.96,222.09 35.36,218.08 35.77,214.05 36.21,209.99 36.66,205.91 37.13,201.81 37.62,197.70 38.14,193.57 38.68,189.45 39.24,185.32 39.83,181.20 40.44,177.08 41.08,172.98 41.75,168.90 42.45,164.83 43.18,160.80 43.94,156.79 44.73,152.82 45.56,148.89 46.42,145.00 47.32,141.16 48.26,137.36 49.24,133.61 50.25,129.93 51.31,126.29 52.42,122.72 53.56,119.21 54.76,115.77 56.00,112.39 57.29,109.08 58.63,105.85 60.03,102.68 61.48,99.58 62.98,96.56 64.54,93.61 66.16,90.73 67.84,87.93 69.58,85.20 71.38,82.55 73.25,79.97 75.18,77.47 77.18,75.04 79.25,72.68 81.39,70.39 83.59,68.18 85.87,66.03 88.22,63.95 90.64,61.95 93.13,60.00 95.70,58.13 98.34,56.32 101.06,54.57 103.85,52.88 106.72,51.25 109.66,49.69 112.67,48.17 115.76,46.72 118.92,45.32 122.15,43.97 125.45,42.67 128.81,41.42 132.25,40.22" fill="none" stroke="#dd2222" stroke-width="1.1" stroke-linejoin="round"/>
<polyline points="30.03,283.35 30.19,280.36 30.37,277.30 30.55,274.16 30.74,270.96 30.94,267.68 31.15,264.33 31.37,260.92 31.60,257.44 31.85,253.90 32.10,250.30 32.36,246.64 32.64,242.92 32.93,239.15 33.23,235.32 33.55,231.45 33.88,227.54 34.22,223.59 34.58,219.60 34.96,215.58 35.36,211.53 35.77,207.45 36.21,203.36 36.66,199.25 37.13,195.13 37.62,191.01 38.14,186.88 38.68,182.75 39.24,178.63 39.83,174.53 40.44,170.44 41.08,166.37 41.75,162.32 42.45,158.30 43.18,154.32 43.94,150.37 44.73,146.46 45.56,142.60 46.42,138.79 47.32,135.02 48.26,131.31 49.24,127.66 50.25,124.06 51.31,120.53 52.42,117.06 53.56,113.66 54.76,110.33 56.00,107.06 57.29,103.87 58.63,100.74 60.03,97.69 61.48,94.71 62.98,91.81 64.54,88.98 66.16,86.23 67.84,83.54 69.58,80.94 71.38,78.41 73.25,75.95 75.18,73.56 77.18,71.25 79.25,69.00 81.39,66.83 83.59,64.73 85.87,62.70 88.22,60.73 90.64,58.83 93.13,56.99 95.70,55.22 98.34,53.51 101.06,51.86 103.85,50.27 106.72,48.74 109.66,47.26 112.67,45.84 115.76,44.47 118.92,43.15 122.15,41.89 125.45,40.67 128.81,39.50 132.25,38.37" fill="none" stroke="#e0e020" stroke-width="1.1" stroke-linejoin="round"/>
<polyline points="30.03,277.28 30.19,274.14 30.37,270.94 30.55,267.66 30.74,264.31 30.94,260.90 31.15,257.42 31.37,253.88 31.60,250.28 31.85,246.61 32.10,242.89 32.36,239.12 32.64,235.30 32.93,231.43 33.23,227.52 33.55,223.56 33.88,219.57 34.22,215.55 34.58,211.50 34.96,207.43 35.36,203.33 35.77,199.23 36.21,195.11 36.66,190.98 37.13,186.85 37.62,182.73 38.14,178.61 38.68,174.50 39.24,170.41 39.83,166.34 40.44,162.29 41.08,158.28 41.75,154.29 42.45,150.35 43.18,146.44 43.94,142.58 44.73,138.76 45.56,135.00 46.42,131.29 47.32,127.64 48.26,124.04 49.24,120.51 50.25,117.04 51.31,113.64 52.42,110.30 53.56,107.04 54.76,103.84 56.00,100.72 57.29,97.67 58.63,94.69 60.03,91.79 61.48,88.96 62.98,86.21 64.54,83.53 66.16,80.92 67.84,78.39 69.58,75.93 71.38,73.55 73.25,71.23 75.18,68.99 77.18,66.82 79.25,64.72 81.39,62.68 83.59,60.72 85.87,58.82 88.22,56.98 90.64,55.21 93.13,53.50 95.70,51.85 98.34,50.26 101.06,48.73 103.85,47.25 106.72,45.83 109.66,44.46 112.67,43.15 115.76,41.88 118.92,40.66 122.15,39.49 125.45,38.36 128.81,37.28 132.25,36.25" fill="none" stroke="#111111" stroke-width="1.1" stroke-linejoin="round"/>
<path d="M37.5,391.5 L27.0,391.5 L27.0,493.0 L378.0,493.0 L378.0,391.5 L70.8,391.5" fill="none" stroke="#333" stroke-width="1"/>
<text x="41.1" y="394.1" font-weight="bold">Legend</text>
<circle cx="33.9" cy="400.20000000000005" r="3.6" fill="none" stroke="#111111" stroke-width="1.15"/>
<text x="41.3" y="403.80">MGAP &lt;23 (intra-hospital mortality as reference) in adults</text>
<path d="M29.099999999999998,410.66 L33.9,405.86 L38.699999999999996,410.66 L33.9,415.46000000000004 Z" fill="none" stroke="#dd2222" stroke-width="1.15"/>
<text x="41.3" y="414.26">NTS &lt;18 (intra-hospital mortality as reference) in adults</text>
<rect x="30.599999999999998" y="418.02000000000004" width="6.6" height="6.6" fill="none" stroke="#33cc33" stroke-width="1.15"/>
<text x="41.3" y="424.72">T-RTS &lt;12 (intra-hospital mortality as reference) in adults</text>
<path d="M33.9,427.48 L38.8,435.58000000000004 L29.0,435.58000000000004 Z" fill="none" stroke="#2e2ed6" stroke-width="1.15" stroke-linejoin="miter"/>
<text x="41.3" y="435.18">Vittel Triage Criteria ≥1 (intra-hospital mortality as reference) in adults</text>
<path d="M30.4,438.5400000000001 L37.4,445.5400000000001 M37.4,438.5400000000001 L30.4,445.5400000000001" stroke="#e0e020" stroke-width="1.1"/>
<text x="41.3" y="445.64">MGAP&lt;14.5 (intra-hospital survival as reference) in adults</text>
<path d="M30.099999999999998,452.50000000000006 L37.699999999999996,452.50000000000006 M33.9,448.70000000000005 L33.9,456.30000000000007" stroke="#dd22dd" stroke-width="1.1"/>
<text x="41.3" y="456.10">GAP &lt;11.5 (intrahospital survival as reference) in adults</text>
<path d="M30.099999999999998,462.96000000000004 L37.699999999999996,462.96000000000004 M33.9,459.16 L33.9,466.76000000000005 M30.29,459.35 L37.51,466.57000000000005 M37.51,459.35 L30.29,466.57000000000005" stroke="#22c8d0" stroke-width="1.1"/>
<text x="41.3" y="466.56">T-RTS &lt;7.5 (intra-hospital survival as reference) in adults</text>
<circle cx="33.9" cy="473.4200000000001" r="3.6" fill="none" stroke="#ff8c1a" stroke-width="1.15"/>
<text x="41.3" y="477.02">MGAP≤22 (ICU admission as reference) in adults</text>
<path d="M29.099999999999998,483.88000000000005 L33.9,479.08000000000004 L38.699999999999996,483.88000000000005 L33.9,488.68000000000006 Z" fill="none" stroke="#c4c4c4" stroke-width="1.15"/>
<text x="41.3" y="487.48">MGAP≤17 (ICU admission as reference) in adults</text>
</g>
</svg>
</body></html>
